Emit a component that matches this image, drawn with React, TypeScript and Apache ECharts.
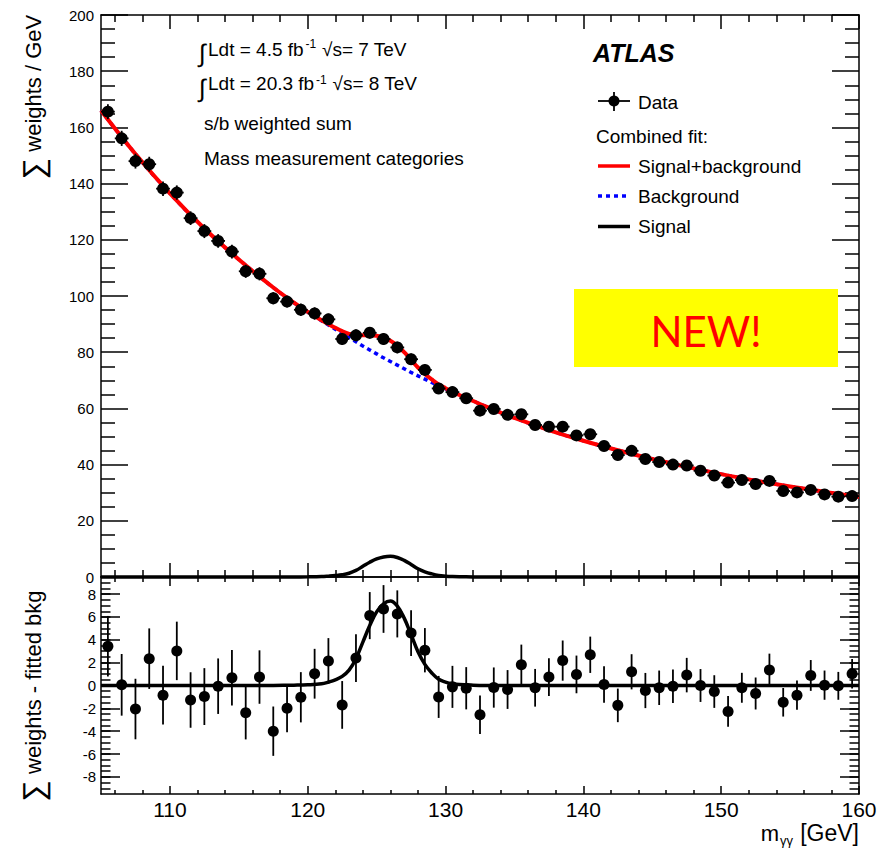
import React, { useEffect, useRef } from 'react';
import * as echarts from 'echarts';

// ---------- data ----------
const massBins = [
  105.5, 106.5, 107.5, 108.5, 109.5, 110.5, 111.5, 112.5, 113.5, 114.5,
  115.5, 116.5, 117.5, 118.5, 119.5, 120.5, 121.5, 122.5, 123.5, 124.5,
  125.5, 126.5, 127.5, 128.5, 129.5, 130.5, 131.5, 132.5, 133.5, 134.5,
  135.5, 136.5, 137.5, 138.5, 139.5, 140.5, 141.5, 142.5, 143.5, 144.5,
  145.5, 146.5, 147.5, 148.5, 149.5, 150.5, 151.5, 152.5, 153.5, 154.5,
  155.5, 156.5, 157.5, 158.5, 159.5,
];
const dataWeights = [
  165.6, 156.1, 148.0, 146.9, 138.2, 136.8, 127.7, 123.1, 119.6, 115.8,
  108.8, 107.9, 99.2, 98.0, 95.1, 93.8, 91.7, 84.7, 86.0, 86.9,
  84.7, 81.7, 77.5, 73.7, 67.1, 65.8, 63.6, 59.2, 59.8, 57.7,
  57.9, 54.1, 53.5, 53.5, 50.4, 50.8, 46.6, 43.4, 44.9, 42.0,
  40.9, 40.0, 39.7, 37.8, 36.1, 33.6, 34.5, 33.1, 34.2, 30.6,
  30.1, 31.0, 29.4, 28.6, 28.8,
];
const dataErrors = [
  2.65, 2.7, 2.65, 2.65, 2.57, 2.56, 2.43, 2.49, 2.43, 2.43,
  2.34, 2.34, 2.16, 2.09, 2.2, 2.18, 2.0, 2.09, 2.09, 2.06,
  2.09, 2.06, 2.0, 1.94, 1.84, 1.84, 1.85, 1.68, 1.76, 1.7,
  1.76, 1.65, 1.65, 1.76, 1.65, 1.59, 1.59, 1.47, 1.54, 1.54,
  1.51, 1.47, 1.51, 1.44, 1.43, 1.35, 1.31, 1.4, 1.44, 1.25,
  1.28, 1.35, 1.28, 1.22, 1.29,
];
const residuals = [
  3.44, 0.06, -2.06, 2.35, -0.85, 3.03, -1.27, -0.97, -0.06, 0.68,
  -2.38, 0.74, -4.0, -2.0, -1.03, 1.03, 2.15, -1.7, 2.4, 6.12,
  6.7, 6.27, 4.59, 3.09, -1.0, -0.12, -0.24, -2.56, -0.18, -0.35,
  1.82, -0.2, 0.74, 2.18, 0.97, 2.69, 0.09, -1.74, 1.2, -0.44,
  -0.2, -0.06, 0.91, 0.0, -0.53, -2.27, -0.2, -0.7, 1.35, -1.47,
  -0.85, 0.88, 0.03, -0.03, 1.03,
];
const fitMass = [
  105, 107.5, 110, 112.5, 115, 117.5, 119, 120, 121, 121.5,
  122, 122.5, 123, 123.5, 124, 124.5, 125, 125.5, 126, 126.5,
  127, 127.5, 128, 128.5, 129, 129.5, 130, 130.5, 131, 132,
  133, 135, 137.5, 140, 142.5, 145, 147.5, 150, 152.5, 155,
  157.5, 160,
];
const bkgFit = [
  166.0, 150.5, 136.5, 124.0, 113.0, 103.0, 97.6, 94.3, 91.2, 89.7,
  88.2, 86.7, 85.2, 83.7, 82.2, 80.8, 79.4, 78.0, 76.7, 75.4,
  74.1, 72.8, 71.6, 70.4, 69.2, 68.0, 66.9, 65.8, 64.7, 62.6,
  60.5, 56.6, 52.3, 48.5, 45.1, 42.0, 39.2, 36.6, 34.3, 32.2,
  30.3, 28.5,
];
const signalFit = [
  0, 0, 0, 0, 0, 0.01, 0.03, 0.06, 0.15, 0.3,
  0.5, 0.8, 1.35, 2.35, 3.8, 5.25, 6.45, 7.15, 7.4, 6.95,
  5.9, 4.45, 2.95, 1.85, 1.1, 0.55, 0.3, 0.15, 0.08, 0.03,
  0.01, 0, 0, 0, 0, 0, 0, 0, 0, 0,
  0, 0,
];
const xMajorTicks = [110, 120, 130, 140, 150, 160];
const xMinorTicks = [106, 108, 112, 114, 116, 118, 122, 124, 126, 128, 132, 134, 136, 138, 142, 144, 146, 148, 152, 154, 156, 158];
const resMajorTicks = [-8, -6, -4, -2, 0, 2, 4, 6, 8];
const resMinorTicks = [
  -9, -8.5, -8, -7.5, -7, -6.5, -6, -5.5, -5, -4.5, -4, -3.5, -3, -2.5, -2, -1.5, -1, -0.5,
  0, 0.5, 1, 1.5, 2, 2.5, 3, 3.5, 4, 4.5, 5, 5.5, 6, 6.5, 7, 7.5, 8, 8.5, 9,
];

// ---------- styling ----------
const FONT = '"Liberation Sans", Arial, Helvetica, sans-serif';
const BLACK = '#000000';

const L = 101, R = 859, TOP = 15, MID = 577, BOT = 794;

function xAxisDef(grid: number, pos: string, ticks: number[], len: number, labels: boolean, line: boolean) {
  return {
    type: 'value', gridIndex: grid, position: pos, min: 105, max: 160,
    axisLine: { show: line, onZero: false, lineStyle: { color: BLACK, width: 1.5 } },
    axisTick: { show: true, inside: true, length: len, customValues: ticks, lineStyle: { color: BLACK, width: 1.5 } },
    axisLabel: labels
      ? { show: true, customValues: xMajorTicks, fontSize: 21, fontFamily: FONT, color: BLACK, margin: 5 }
      : { show: false },
    splitLine: { show: false },
  };
}

function resAxisDef(pos: string, ticks: number[], len: number, labels: boolean, line: boolean) {
  return {
    type: 'value', gridIndex: 1, position: pos, min: -9.5, max: 9.5,
    axisLine: { show: line, onZero: false, lineStyle: { color: BLACK, width: 1.5 } },
    axisTick: { show: true, inside: true, length: len, customValues: ticks, lineStyle: { color: BLACK, width: 1.5 } },
    axisLabel: labels
      ? { show: true, customValues: resMajorTicks, fontSize: 15, fontFamily: FONT, color: BLACK, margin: 5 }
      : { show: false },
    splitLine: { show: false },
  };
}

function topYAxisDef(pos: string, labels: boolean) {
  return {
    type: 'value', gridIndex: 0, position: pos, min: 0, max: 200, interval: 20,
    axisLine: { show: true, onZero: false, lineStyle: { color: BLACK, width: 1.5 } },
    axisTick: { show: true, inside: true, length: 27, lineStyle: { color: BLACK, width: 1.5 } },
    minorTick: { show: true, splitNumber: 4, length: 14, lineStyle: { color: BLACK, width: 1.5 } },
    axisLabel: labels
      ? { show: true, fontSize: 15, fontFamily: FONT, color: BLACK, margin: 7 }
      : { show: false },
    splitLine: { show: false },
  };
}

function errRender(hbar: boolean) {
  return (params: any, api: any) => {
    const x = api.value(0), y = api.value(1), e = api.value(2);
    const a = api.coord([x, y - e]);
    const b = api.coord([x, y + e]);
    const children: any[] = [
      { type: 'line', shape: { x1: a[0], y1: a[1], x2: b[0], y2: b[1] }, style: { stroke: BLACK, lineWidth: 1.8 } },
    ];
    if (hbar) {
      const l = api.coord([x - 0.5, y]);
      const r = api.coord([x + 0.5, y]);
      children.push({ type: 'line', shape: { x1: l[0], y1: l[1], x2: r[0], y2: r[1] }, style: { stroke: BLACK, lineWidth: 1.8 } });
    }
    return { type: 'group', children };
  };
}

function txt(text: string, x: number, y: number, size: number, extra: any = {}) {
  const fam = extra.family || FONT;
  const weight = extra.weight || 'normal';
  const fstyle = extra.style || 'normal';
  return {
    type: 'text', z: 50,
    style: {
      text, x, y, fill: extra.fill || BLACK,
      font: `${fstyle} ${weight} ${size}px ${fam}`,
      fontSize: size, fontFamily: fam,
      fontStyle: fstyle, fontWeight: weight,
      align: extra.align || 'left', textAlign: extra.align || 'left',
      verticalAlign: 'middle', textVerticalAlign: 'middle',
    },
  };
}

function seg(x1: number, y1: number, x2: number, y2: number, color: string, width: number, dash?: number[]) {
  return {
    type: 'line', z: 50,
    shape: { x1, y1, x2, y2 },
    style: { stroke: color, lineWidth: width, lineDash: dash },
  };
}

export default function App() {
  const ref = useRef<HTMLDivElement>(null);

  useEffect(() => {
    document.body.style.margin = '0';
    if (!ref.current) return;
    const chart = echarts.init(ref.current, null, { renderer: 'svg' });

    const bkgLine = fitMass.map((x, i) => [x, bkgFit[i]]);
    const sbLine = fitMass.map((x, i) => [x, bkgFit[i] + signalFit[i]]);
    const sigLine = fitMass.map((x, i) => [x, signalFit[i]]);
    const topPts = massBins.map((x, i) => [x, dataWeights[i], dataErrors[i]]);
    const resPts = massBins.map((x, i) => [x, residuals[i], dataErrors[i]]);

    const option: any = {
      animation: false,
      backgroundColor: '#ffffff',
      grid: [
        { left: L, top: TOP, width: R - L, height: MID - TOP, outerBoundsMode: 'none', containLabel: false },
        { left: L, top: MID, width: R - L, height: BOT - MID, outerBoundsMode: 'none', containLabel: false },
      ],
      xAxis: [
        xAxisDef(0, 'bottom', xMajorTicks, 14, false, true),
        xAxisDef(0, 'bottom', xMinorTicks, 7, false, false),
        xAxisDef(0, 'top', xMajorTicks, 14, false, true),
        xAxisDef(0, 'top', xMinorTicks, 7, false, false),
        xAxisDef(1, 'bottom', xMajorTicks, 8, true, true),
        xAxisDef(1, 'bottom', xMinorTicks, 4, false, false),
        xAxisDef(1, 'top', xMajorTicks, 9, false, true),
        xAxisDef(1, 'top', xMinorTicks, 5, false, false),
      ],
      yAxis: [
        topYAxisDef('left', true),
        topYAxisDef('right', false),
        resAxisDef('left', resMajorTicks, 19, true, true),
        resAxisDef('left', resMinorTicks, 9.5, false, false),
        resAxisDef('right', resMajorTicks, 19, false, true),
        resAxisDef('right', resMinorTicks, 9.5, false, false),
      ],
      series: [
        {
          type: 'line', xAxisIndex: 0, yAxisIndex: 0, data: bkgLine, smooth: 0.4,
          symbol: 'none', showSymbol: false, z: 2,
          lineStyle: { color: '#0000ff', width: 3.5, type: [4, 4] },
        },
        {
          type: 'line', xAxisIndex: 0, yAxisIndex: 0, data: sbLine, smooth: 0.4,
          symbol: 'none', showSymbol: false, z: 3,
          lineStyle: { color: '#ff0000', width: 4 },
        },
        {
          type: 'line', xAxisIndex: 0, yAxisIndex: 0, data: sigLine, smooth: 0.4,
          symbol: 'none', showSymbol: false, z: 4, clip: false,
          lineStyle: { color: BLACK, width: 3.5 },
        },
        {
          type: 'custom', xAxisIndex: 0, yAxisIndex: 0, data: topPts,
          encode: { x: 0, y: 1 }, renderItem: errRender(true), z: 5, silent: true,
        },
        {
          type: 'scatter', xAxisIndex: 0, yAxisIndex: 0, data: topPts.map((p) => [p[0], p[1]]),
          symbol: 'circle', symbolSize: 12, itemStyle: { color: BLACK, opacity: 1 }, z: 6, silent: true,
        },
        {
          type: 'line', xAxisIndex: 4, yAxisIndex: 2, data: sigLine, smooth: 0.4,
          symbol: 'none', showSymbol: false, z: 4, clip: false,
          lineStyle: { color: BLACK, width: 3.5 },
        },
        {
          type: 'custom', xAxisIndex: 4, yAxisIndex: 2, data: resPts,
          encode: { x: 0, y: 1 }, renderItem: errRender(false), z: 5, silent: true,
        },
        {
          type: 'scatter', xAxisIndex: 4, yAxisIndex: 2, data: resPts.map((p) => [p[0], p[1]]),
          symbol: 'circle', symbolSize: 11, itemStyle: { color: BLACK, opacity: 1 }, z: 6, silent: true,
        },
      ],
      graphic: [
        // axis titles
        {
          type: 'text', x: 33, y: 97, rotation: Math.PI / 2, z: 50,
          style: {
            text: '{s|∑} weights / GeV', x: 0, y: 0, fill: BLACK,
            font: `22px ${FONT}`, fontSize: 22, fontFamily: FONT,
            align: 'center', textAlign: 'center', verticalAlign: 'middle', textVerticalAlign: 'middle',
            rich: { s: { fontSize: 30, fontFamily: FONT, fill: BLACK } },
          },
        },
        {
          type: 'text', x: 33, y: 696, rotation: Math.PI / 2, z: 50,
          style: {
            text: '{s|∑} weights - fitted bkg', x: 0, y: 0, fill: BLACK,
            font: `22px ${FONT}`, fontSize: 22, fontFamily: FONT,
            align: 'center', textAlign: 'center', verticalAlign: 'middle', textVerticalAlign: 'middle',
            rich: { s: { fontSize: 30, fontFamily: FONT, fill: BLACK } },
          },
        },
        txt('[GeV]', 859, 833, 23, { align: 'right' }),
        txt('γγ', 793, 840, 13, { align: 'right' }),
        txt('m', 779, 833, 22, { align: 'right' }),
        // luminosity texts
        txt('∫', 199, 53, 25),
        txt('Ldt = 4.5 fb', 208, 49, 19),
        txt('-1', 305.5, 44, 12),
        txt('√s= 7 TeV', 322, 49, 19),
        txt('∫', 199, 88, 25),
        txt('Ldt = 20.3 fb', 208, 83.5, 19),
        txt('-1', 316, 79.5, 12),
        txt('√s= 8 TeV', 332.5, 83.5, 19),
        txt('s/b weighted sum', 204, 123, 19),
        txt('Mass measurement categories', 204, 158, 19),
        // ATLAS label and legend
        txt('ATLAS', 593, 53, 25, { weight: 'bold', style: 'italic' }),
        seg(598, 101, 630, 101, BLACK, 1.8),
        seg(614, 92, 614, 111, BLACK, 1.8),
        { type: 'circle', z: 51, shape: { cx: 614, cy: 101, r: 5.5 }, style: { fill: BLACK } },
        txt('Data', 638, 102.5, 19),
        txt('Combined fit:', 596, 136, 19),
        seg(598, 166, 630, 166, '#ff0000', 3.5),
        txt('Signal+background', 638, 166, 19),
        seg(598, 196, 630, 196, '#0000ff', 3.5, [4, 4]),
        txt('Background', 638, 196, 19),
        seg(598, 226.5, 630, 226.5, BLACK, 3.5),
        txt('Signal', 638, 226.5, 19),
        // NEW! box
        { type: 'rect', z: 49, shape: { x: 574, y: 289, width: 264, height: 78 }, style: { fill: '#ffff00' } },
        txt('NEW!', 706, 331, 42, { align: 'center', family: 'Lato, "Open Sans", sans-serif', fill: '#ff0000' }),
      ],
    };

    chart.setOption(option);
    return () => chart.dispose();
  }, []);

  return <div ref={ref} style={{ width: 895, height: 852, background: '#ffffff' }} />;
}
